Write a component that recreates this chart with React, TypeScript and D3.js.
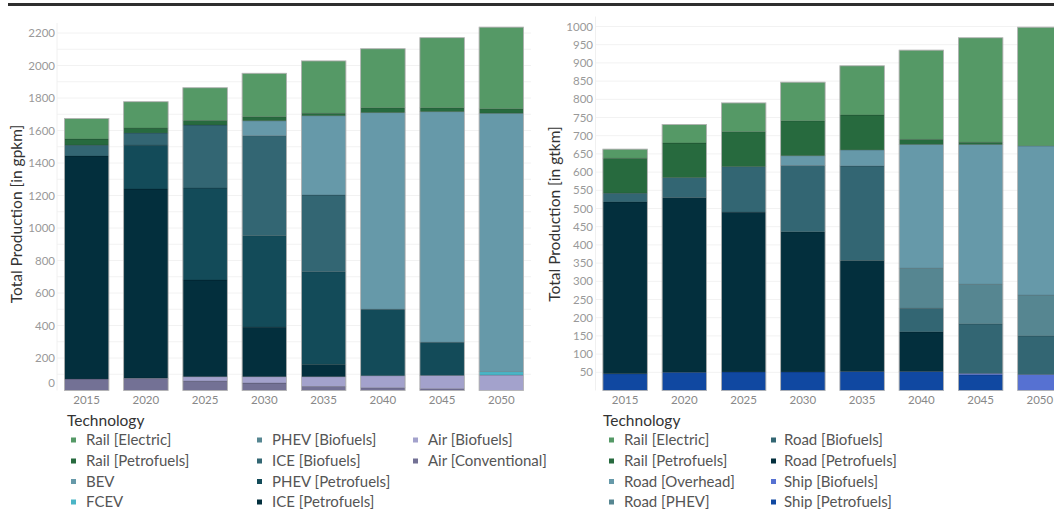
import React from "react";
import * as d3 from "d3";

const years = ["2015", "2020", "2025", "2030", "2035", "2040", "2045", "2050"];

// Left chart (passenger, gpkm) – stacked bottom to top
const airConventional = [71, 73, 58, 46, 25, 17, 11, 0];
const airBiofuels = [0, 3, 27, 39, 60, 74, 82, 95];
const icePetrofuels = [1372, 1164, 595, 305, 76, 0, 0, 0];
const phevPetrofuels = [0, 270, 566, 563, 570, 409, 204, 0];
const iceBiofuels = [67, 75, 388, 615, 472, 0, 0, 0];
const phevBiofuels = [0, 0, 0, 0, 0, 0, 0, 0];
const fcev = [0, 0, 0, 0, 0, 0, 0, 21];
const bev = [0, 0, 0, 92, 488, 1210, 1419, 1590];
const railPetrofuelsP = [38, 30, 28, 25, 15, 30, 24, 28];
const railElectricP = [126, 162, 201, 267, 322, 363, 431, 502];

// Right chart (freight, gtkm) – stacked bottom to top
const shipPetrofuels = [46, 50, 51, 51, 52, 52, 43, 0];
const shipBiofuels = [0, 0, 0, 0, 0, 0, 4, 44];
const roadPetrofuels = [472, 480, 439, 385, 305, 109, 0, 0];
const roadBiofuels = [24, 55, 125, 182, 260, 65, 136, 106];
const roadPHEV = [0, 0, 0, 0, 0, 110, 109, 112];
const roadOverhead = [0, 0, 0, 27, 44, 340, 384, 410];
const railPetrofuelsF = [96, 95, 96, 96, 96, 14, 6, 0];
const railElectricF = [25, 51, 79, 106, 135, 245, 287, 326];

const leftTicks = [0, 200, 400, 600, 800, 1000, 1200, 1400, 1600, 1800, 2000, 2200];
const rightTicks = d3.range(50, 1001, 50);

type Series = { name: string; values: number[]; color: string };

const leftSeries: Series[] = [
  { name: "Air [Conventional]", values: airConventional, color: "#737195" },
  { name: "Air [Biofuels]", values: airBiofuels, color: "#a3a2cc" },
  { name: "ICE [Petrofuels]", values: icePetrofuels, color: "#032f3d" },
  { name: "PHEV [Petrofuels]", values: phevPetrofuels, color: "#134b59" },
  { name: "ICE [Biofuels]", values: iceBiofuels, color: "#336673" },
  { name: "PHEV [Biofuels]", values: phevBiofuels, color: "#568691" },
  { name: "FCEV", values: fcev, color: "#4bb5c6" },
  { name: "BEV", values: bev, color: "#6699a9" },
  { name: "Rail [Petrofuels]", values: railPetrofuelsP, color: "#276a3e" },
  { name: "Rail [Electric]", values: railElectricP, color: "#559966" },
];

const rightSeries: Series[] = [
  { name: "Ship [Petrofuels]", values: shipPetrofuels, color: "#1048a1" },
  { name: "Ship [Biofuels]", values: shipBiofuels, color: "#5671d2" },
  { name: "Road [Petrofuels]", values: roadPetrofuels, color: "#032f3d" },
  { name: "Road [Biofuels]", values: roadBiofuels, color: "#336673" },
  { name: "Road [PHEV]", values: roadPHEV, color: "#568691" },
  { name: "Road [Overhead]", values: roadOverhead, color: "#6699a9" },
  { name: "Rail [Petrofuels]", values: railPetrofuelsF, color: "#276a3e" },
  { name: "Rail [Electric]", values: railElectricF, color: "#559966" },
];

const leftLegendCols = [
  ["Rail [Electric]", "Rail [Petrofuels]", "BEV", "FCEV"],
  ["PHEV [Biofuels]", "ICE [Biofuels]", "PHEV [Petrofuels]", "ICE [Petrofuels]"],
  ["Air [Biofuels]", "Air [Conventional]"],
];
const rightLegendCols = [
  ["Rail [Electric]", "Rail [Petrofuels]", "Road [Overhead]", "Road [PHEV]"],
  ["Road [Biofuels]", "Road [Petrofuels]", "Ship [Biofuels]", "Ship [Petrofuels]"],
];

const FONT = "Lato, 'Open Sans', sans-serif";

function Chart(props: {
  series: Series[];
  x0: number;
  x1: number;
  yMax: number;
  yTop: number;
  ticks: number[];
  gridStep: number;
  labelX: number;
  title: string;
  titleX: number;
  zeroShift: boolean;
}) {
  const { series, x0, x1, yMax, yTop, ticks, gridStep, labelX, title, titleX } = props;
  const yBase = 390.5;
  const x = d3.scaleBand<string>().domain(years).range([x0, x1]).paddingInner(0.25).paddingOuter(0.125);
  const y = d3.scaleLinear().domain([0, yMax]).range([yBase, yTop]);
  const table = years.map((yr, i) => {
    const o: any = { year: yr };
    series.forEach((s) => (o[s.name] = s.values[i]));
    return o;
  });
  const stack = d3.stack<any>().keys(series.map((s) => s.name))(table);
  const grid = d3.range(gridStep, yMax + 1, gridStep);
  const totals = years.map((_, i) => d3.sum(series, (s) => s.values[i]));
  return (
    <g>
      {grid.map((g) => (
        <line key={g} x1={x0} x2={x1} y1={y(g)} y2={y(g)} stroke="#f2f2f2" strokeWidth={1} />
      ))}
      <line x1={x0} x2={x0} y1={yTop - 10} y2={yBase} stroke="#f0f0f0" />
      {ticks.map((t) => (
        <text
          key={t}
          x={labelX}
          y={t === 0 && props.zeroShift ? y(t) - 8 : y(t)}
          dy="0.35em"
          textAnchor="end"
          fontSize={11.5}
          fill="#999"
          fontFamily={FONT}
        >
          {t}
        </text>
      ))}
      {stack.map((layer, li) => (
        <g key={layer.key} fill={series[li].color}>
          {layer.map((d, i) =>
            d[1] - d[0] > 0 ? (
              <rect
                key={i}
                x={x(years[i])!}
                width={x.bandwidth()}
                y={y(d[1])}
                height={y(d[0]) - y(d[1])}
                stroke="rgba(0,0,0,0.18)"
                strokeWidth={0.8}
              />
            ) : null
          )}
        </g>
      ))}
      {years.map((yr, i) => (
        <rect
          key={"o" + yr}
          x={x(yr)!}
          width={x.bandwidth()}
          y={y(totals[i])}
          height={yBase - y(totals[i])}
          fill="none"
          stroke="#b8b8b8"
          strokeWidth={0.8}
        />
      ))}
      {years.map((yr) => (
        <text
          key={"x" + yr}
          x={x(yr)! + x.bandwidth() / 2}
          y={400}
          dy="0.35em"
          textAnchor="middle"
          fontSize={11.5}
          fill="#888"
          fontFamily={FONT}
        >
          {yr}
        </text>
      ))}
      <text
        transform={`translate(${titleX},${214}) rotate(-90)`}
        textAnchor="middle"
        dy="0.35em"
        fontSize={15.5}
        fill="#333"
        fontFamily={FONT}
      >
        {title}
      </text>
    </g>
  );
}

function Legend(props: {
  cols: string[][];
  series: Series[];
  titleX: number;
  markerX: number[];
  textX: number[];
}) {
  const rows = [440, 461, 481.5, 502];
  const colorOf = (n: string) => props.series.find((s) => s.name === n)!.color;
  return (
    <g fontFamily={FONT}>
      <text x={props.titleX} y={426} fontSize={15.5} fill="#333">
        Technology
      </text>
      {props.cols.map((col, ci) =>
        col.map((name, ri) => (
          <g key={name}>
            <rect x={props.markerX[ci]} y={rows[ri] - 2.5} width={5} height={5} fill={colorOf(name)} />
            <text x={props.textX[ci]} y={rows[ri]} dy="0.35em" fontSize={15} fill="#555">
              {name}
            </text>
          </g>
        ))
      )}
    </g>
  );
}

export default function App() {
  return (
    <svg
      width={1054}
      height={509}
      style={{ position: "absolute", left: 0, top: 0, background: "#fff" }}
    >
      <rect x={0} y={0} width={1054} height={509} fill="#fff" />
      <rect x={8} y={3} width={1046} height={3} fill="#2e2e2e" />
      <Chart
        series={leftSeries}
        x0={57}
        x1={531}
        yMax={2200}
        yTop={390.5 - 2200 * 0.1625}
        ticks={leftTicks}
        gridStep={100}
        labelX={55}
        title="Total Production [in gpkm]"
        titleX={17}
        zeroShift={true}
      />
      <Chart
        series={rightSeries}
        x0={595.5}
        x1={1069.5}
        yMax={1000}
        yTop={26.5}
        ticks={rightTicks}
        gridStep={50}
        labelX={593}
        title="Total Production [in gtkm]"
        titleX={555}
        zeroShift={false}
      />
      <Legend
        cols={leftLegendCols}
        series={leftSeries}
        titleX={67}
        markerX={[71, 257, 413]}
        textX={[86, 272, 428]}
      />
      <Legend
        cols={rightLegendCols}
        series={rightSeries}
        titleX={603}
        markerX={[609, 771]}
        textX={[624, 784]}
      />
    </svg>
  );
}
